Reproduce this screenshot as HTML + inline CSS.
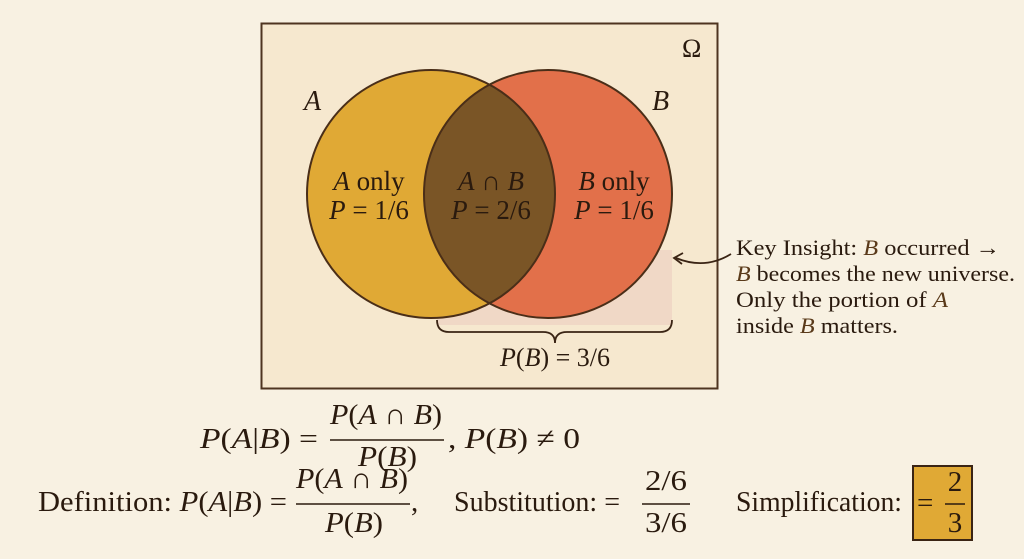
<!DOCTYPE html>
<html><head><meta charset="utf-8"><style>
html,body{margin:0;padding:0;background:#f8f1e2;}
svg{display:block;}
text{font-family:"Liberation Serif",serif;fill:#2a1a0e;}
.i{font-style:italic;}
</style></head><body>
<svg width="1024" height="559" viewBox="0 0 1024 559" xmlns="http://www.w3.org/2000/svg">
<rect width="1024" height="559" fill="#f8f1e2"/>
<rect x="261.5" y="23.5" width="456" height="365" fill="#f6e8cf" stroke="#4e3420" stroke-width="2"/>
<text x="682" y="57" font-size="26">Ω</text>
<rect x="437" y="250" width="235" height="75" fill="#f0d8c6"/>
<defs><clipPath id="ca"><circle cx="431" cy="194" r="124"/></clipPath></defs>
<circle cx="431" cy="194" r="124" fill="#e0a935"/>
<circle cx="548" cy="194" r="124" fill="#e2704a"/>
<circle cx="548" cy="194" r="124" fill="#7a5526" clip-path="url(#ca)"/>
<circle cx="431" cy="194" r="124" fill="none" stroke="#4a2e18" stroke-width="2"/>
<circle cx="548" cy="194" r="124" fill="none" stroke="#4a2e18" stroke-width="2"/>
<text x="304" y="110" font-size="28" class="i">A</text>
<text x="652" y="110" font-size="28" class="i">B</text>
<g font-size="27" text-anchor="middle">
<text x="369" y="190"><tspan class="i">A</tspan> only</text>
<text x="369" y="219"><tspan class="i">P</tspan> = 1/6</text>
<text x="491" y="190"><tspan class="i">A</tspan> ∩ <tspan class="i">B</tspan></text>
<text x="491" y="219"><tspan class="i">P</tspan> = 2/6</text>
<text x="614" y="190"><tspan class="i">B</tspan> only</text>
<text x="614" y="219"><tspan class="i">P</tspan> = 1/6</text>
</g>
<path d="M437 320 Q437 332 449 332 L543 332 Q555 332 555 343 Q555 332 567 332 L660 332 Q672 332 672 320" fill="none" stroke="#3a2414" stroke-width="1.8"/>
<text x="555" y="366" font-size="26" text-anchor="middle"><tspan class="i">P</tspan>(<tspan class="i">B</tspan>) = 3/6</text>
<path d="M731 254 Q705 270 676 258" fill="none" stroke="#3a2414" stroke-width="1.8"/>
<path d="M683 253 L674 258 L682 264" fill="none" stroke="#3a2414" stroke-width="1.8"/>
<g font-size="22.5">
<text x="736" y="255" textLength="264" lengthAdjust="spacingAndGlyphs">Key Insight: <tspan class="i" fill="#5a3a1a">B</tspan> occurred →</text>
<text x="736" y="281" textLength="279" lengthAdjust="spacingAndGlyphs"><tspan class="i" fill="#5a3a1a">B</tspan> becomes the new universe.</text>
<text x="736" y="307" textLength="212" lengthAdjust="spacingAndGlyphs">Only the portion of <tspan class="i" fill="#5a3a1a">A</tspan></text>
<text x="736" y="333" textLength="162" lengthAdjust="spacingAndGlyphs">inside <tspan class="i" fill="#5a3a1a">B</tspan> matters.</text>
</g>
<g font-size="29">
<text x="200" y="448" textLength="118" lengthAdjust="spacingAndGlyphs"><tspan class="i">P</tspan>(<tspan class="i">A</tspan>|<tspan class="i">B</tspan>) =</text>
<text x="330" y="424" textLength="112" lengthAdjust="spacingAndGlyphs"><tspan class="i">P</tspan>(<tspan class="i">A</tspan> ∩ <tspan class="i">B</tspan>)</text>
<line x1="330" y1="440" x2="444" y2="440" stroke="#2a1a0e" stroke-width="1.5"/>
<text x="358" y="466" textLength="59" lengthAdjust="spacingAndGlyphs"><tspan class="i">P</tspan>(<tspan class="i">B</tspan>)</text>
<text x="448" y="448" textLength="132" lengthAdjust="spacingAndGlyphs">,  <tspan class="i">P</tspan>(<tspan class="i">B</tspan>) ≠ 0</text>

<text x="38" y="511" textLength="249" lengthAdjust="spacingAndGlyphs">Definition: <tspan class="i">P</tspan>(<tspan class="i">A</tspan>|<tspan class="i">B</tspan>) =</text>
<text x="296" y="488" textLength="112" lengthAdjust="spacingAndGlyphs"><tspan class="i">P</tspan>(<tspan class="i">A</tspan> ∩ <tspan class="i">B</tspan>)</text>
<line x1="296" y1="504" x2="410" y2="504" stroke="#2a1a0e" stroke-width="1.5"/>
<text x="325" y="532" textLength="58" lengthAdjust="spacingAndGlyphs"><tspan class="i">P</tspan>(<tspan class="i">B</tspan>)</text>
<text x="411" y="511">,</text>
<text x="454" y="511" textLength="166" lengthAdjust="spacingAndGlyphs">Substitution:  =</text>
<text x="645" y="490" textLength="42" lengthAdjust="spacingAndGlyphs">2/6</text>
<line x1="642" y1="504" x2="690" y2="504" stroke="#2a1a0e" stroke-width="1.5"/>
<text x="645" y="532" textLength="42" lengthAdjust="spacingAndGlyphs">3/6</text>
<text x="736" y="511" textLength="166" lengthAdjust="spacingAndGlyphs">Simplification:</text>
<rect x="913" y="466" width="59" height="74" fill="#e0a935" stroke="#3a2414" stroke-width="2"/>
<text x="917" y="512">=</text>
<text x="955" y="491" text-anchor="middle">2</text>
<line x1="945" y1="504" x2="965" y2="504" stroke="#2a1a0e" stroke-width="1.5"/>
<text x="955" y="532" text-anchor="middle">3</text>
</g>
</svg>
</body></html>
